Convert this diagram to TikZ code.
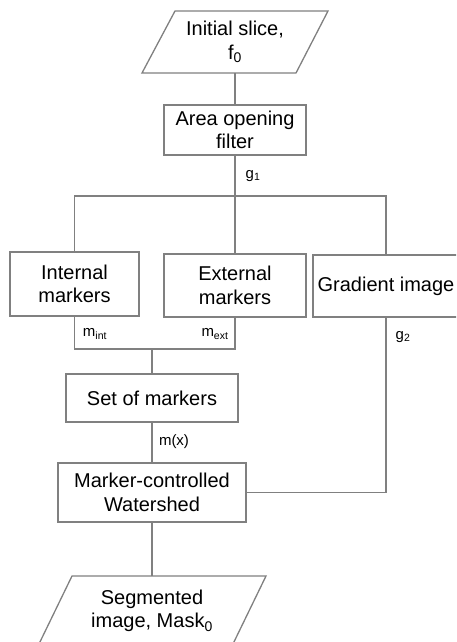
\documentclass[tikz,border=0pt]{standalone}
\usepackage{fontspec}
\setmainfont{Liberation Sans}
\begin{document}
\begin{tikzpicture}[x=1pt,y=-1pt,
  ln/.style={draw=black!50, line width=1.3pt},
  boxtext/.style={font=\fontsize{20}{23.5}\selectfont, align=center, inner sep=0pt},
  procbox/.style={boxtext, ln, rectangle},
  lbl/.style={font=\fontsize{15}{17}\selectfont, inner sep=0pt}]
\useasboundingbox (0,0) rectangle (456,642);
\clip (0,0) rectangle (456,642);
% input parallelogram
\coordinate (i1) at (175,11);
\coordinate (i2) at (328,11);
\coordinate (i3) at (296,73);
\coordinate (i4) at (142,73);
\draw[ln, line join=miter] (i1) -- (i2) -- (i3) -- (i4) -- cycle;
\node[boxtext] (in0) at (235,42) {Initial slice,\\f\textsubscript{0}};
\coordinate (inS) at (235,73);
% boxes
\node[procbox, minimum width=142, minimum height=50] (area) at (235,130) {Area opening\\filter};
\node[procbox, minimum width=129, minimum height=64] (int) at (74.5,284) {Internal\\markers};
\node[procbox, minimum width=142, minimum height=63] (ext) at (235,285.5) {External\\markers};
\node[procbox, minimum width=146, minimum height=62] (grad) at (386,286) {Gradient image};
\node[procbox, minimum width=172, minimum height=48] (set) at (152,398) {Set of markers};
\node[procbox, minimum width=188, minimum height=59] (ws) at (152,492.5) {Marker-controlled\\Watershed};
% output parallelogram
\coordinate (o1) at (72,576);
\coordinate (o2) at (266,576);
\coordinate (o3) at (232,646);
\coordinate (o4) at (38,646);
\draw[ln, line join=miter] (o1) -- (o2) -- (o3) -- (o4) -- cycle;
\node[boxtext] (out) at (152,611) {Segmented\\image, Mask\textsubscript{0}};
\coordinate (outN) at (152,576);
% junction coordinates
\coordinate (j1) at (235,196);
\coordinate (j2) at (152,349);
% connectors
\draw[ln] (inS) -- (area.north);
\draw[ln] (area.south) -- (j1);
\draw[ln] (int.north) |- (j1) -| (grad.north);
\draw[ln] (j1) -- (ext.north);
\draw[ln] (int.south) |- (j2) -| (ext.south);
\draw[ln] (j2) -- (set.north);
\draw[ln] (set.south) -- (ws.north);
\draw[ln] (grad.south) |- (ws.east);
\draw[ln] (ws.south) -- (outN);
% labels
\node[lbl] (g1) at (253,176) {g\textsubscript{1}};
\node[lbl] (mint) at (95,334) {m\textsubscript{int}};
\node[lbl] (mext) at (215,334) {m\textsubscript{ext}};
\node[lbl] (g2) at (403,337) {g\textsubscript{2}};
\node[lbl] (mx) at (174,442) {m(x)};
\end{tikzpicture}
\end{document}
